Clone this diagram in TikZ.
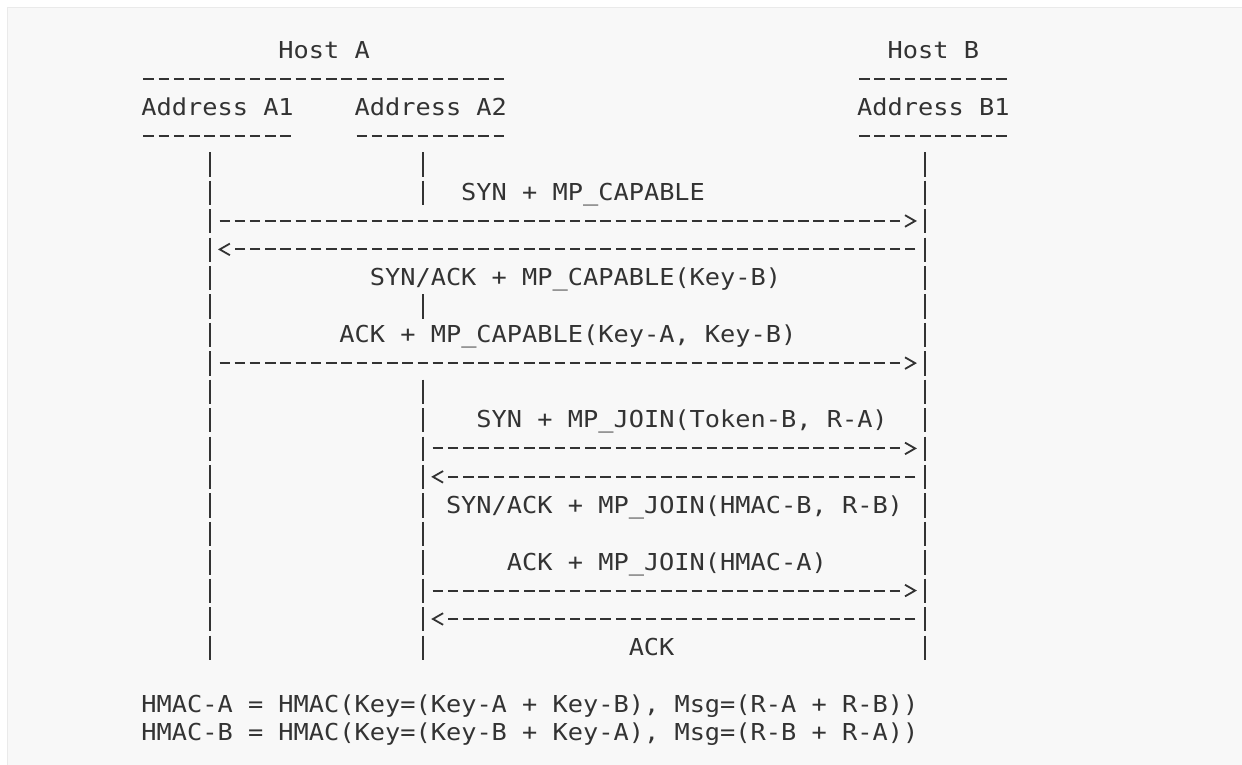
\documentclass[tikz,border=0pt]{standalone}
\usepackage{fontspec}
\newfontfamily\asciifont[FakeStretch=1.085]{DejaVu Sans Mono}
\usetikzlibrary{decorations.markings}

\definecolor{ink}{HTML}{333333}
\definecolor{panel}{HTML}{F8F8F8}
\definecolor{rim}{HTML}{EAEAEA}

% text grid of the figure (px): column left edge, row baseline
\newcommand{\cx}[1]{141+15.23*#1}
\newcommand{\ry}[1]{29.87+28.43*#1}

\tikzset{
  txt/.style={anchor=base west, inner sep=0pt, text=ink,
    font={\asciifont\fontsize{11.66}{14}\selectfont}},
  dashrule/.style={draw=ink, line width=0.95pt, dash pattern=on 5.25pt off 2.365pt},
  life/.style={draw=ink, line width=1pt, dash pattern=on 12.15pt off 2.065pt},
  msg/.style={dashrule, shorten <=1.18pt,
    postaction={decorate, decoration={markings, mark=at position 1 with
      {\draw[ink, line width=0.9pt, solid, shorten <=0pt] (2.5,5.8) -- (12.6,0) -- (2.5,-5.8);}}}},
}

\begin{document}
\begin{tikzpicture}[x=0.5pt, y=-0.5pt]
\useasboundingbox (0,0) rectangle (1242,765);
\fill[white] (0,0) rectangle (1242,765);
\fill[panel] (7.5,7.5) rectangle (1242,765);
\draw[rim, line width=0.8pt] (7.5,765) -- (7.5,7.5) -- (1242,7.5);

% hosts and addresses
\node[txt] (hostA) at (\cx{9}, \ry{1}) {Host A};
\node[txt] (hostB) at (\cx{49}, \ry{1}) {Host B};
\draw[dashrule] (\cx{0}+2.36, \ry{2}-7.9) -- (\cx{24}-2.36, \ry{2}-7.9);
\draw[dashrule] (\cx{47}+2.36, \ry{2}-7.9) -- (\cx{57}-2.36, \ry{2}-7.9);
\node[txt] (addrA1) at (\cx{0}, \ry{3}) {Address A1};
\node[txt] (addrA2) at (\cx{14}, \ry{3}) {Address A2};
\node[txt] (addrB1) at (\cx{47}, \ry{3}) {Address B1};
\draw[dashrule] (\cx{0}+2.36, \ry{4}-7.9) -- (\cx{10}-2.36, \ry{4}-7.9);
\draw[dashrule] (\cx{14}+2.36, \ry{4}-7.9) -- (\cx{24}-2.36, \ry{4}-7.9);
\draw[dashrule] (\cx{47}+2.36, \ry{4}-7.9) -- (\cx{57}-2.36, \ry{4}-7.9);

% lifelines
\coordinate (A1) at (\cx{4.5}, 0);
\coordinate (A2) at (\cx{18.5}, 0);
\coordinate (B1) at (\cx{51.5}, 0);
\draw[life] (\cx{4.5}, \ry{5}-19.8) -- (\cx{4.5}, \ry{22}+4.5);
\draw[life] (\cx{18.5}, \ry{5}-19.8) -- (\cx{18.5}, \ry{6}+4.5);
\draw[life] (\cx{18.5}, \ry{10}-19.8) -- (\cx{18.5}, \ry{10}+4.5);
\draw[life] (\cx{18.5}, \ry{13}-19.8) -- (\cx{18.5}, \ry{22}+4.5);
\draw[life] (\cx{51.5}, \ry{5}-19.8) -- (\cx{51.5}, \ry{22}+4.5);

% message rows
\coordinate (m7) at (0, \ry{7}-7.9);
\coordinate (m8) at (0, \ry{8}-7.9);
\coordinate (m12) at (0, \ry{12}-7.9);
\coordinate (m15) at (0, \ry{15}-7.9);
\coordinate (m16) at (0, \ry{16}-7.9);
\coordinate (m20) at (0, \ry{20}-7.9);
\coordinate (m21) at (0, \ry{21}-7.9);

% first subflow
\node[txt] (synCap) at (\cx{21}, \ry{6}) {SYN + MP\_CAPABLE};
\draw[msg] ([xshift=3.81pt]A1 |- m7) -- ([xshift=-11.42pt]B1 |- m7);
\draw[msg] ([xshift=-3.81pt]B1 |- m8) -- ([xshift=11.42pt]A1 |- m8);
\node[txt] (synackCap) at (\cx{15}, \ry{9}) {SYN/ACK + MP\_CAPABLE(Key-B)};
\node[txt] (ackCap) at (\cx{13}, \ry{11}) {ACK + MP\_CAPABLE(Key-A, Key-B)};
\draw[msg] ([xshift=3.81pt]A1 |- m12) -- ([xshift=-11.42pt]B1 |- m12);

% second subflow
\node[txt] (synJoin) at (\cx{22}, \ry{14}) {SYN + MP\_JOIN(Token-B, R-A)};
\draw[msg] ([xshift=3.81pt]A2 |- m15) -- ([xshift=-11.42pt]B1 |- m15);
\draw[msg] ([xshift=-3.81pt]B1 |- m16) -- ([xshift=11.42pt]A2 |- m16);
\node[txt] (synackJoin) at (\cx{20}, \ry{17}) {SYN/ACK + MP\_JOIN(HMAC-B, R-B)};
\node[txt] (ackJoin) at (\cx{24}, \ry{19}) {ACK + MP\_JOIN(HMAC-A)};
\draw[msg] ([xshift=3.81pt]A2 |- m20) -- ([xshift=-11.42pt]B1 |- m20);
\draw[msg] ([xshift=-3.81pt]B1 |- m21) -- ([xshift=11.42pt]A2 |- m21);
\node[txt] (ackLast) at (\cx{32}, \ry{22}) {ACK};

% key derivation
\node[txt] (hmacA) at (\cx{0}, \ry{24}) {HMAC-A = HMAC(Key=(Key-A + Key-B), Msg=(R-A + R-B))};
\node[txt] (hmacB) at (\cx{0}, \ry{25}) {HMAC-B = HMAC(Key=(Key-B + Key-A), Msg=(R-B + R-A))};

\end{tikzpicture}
\end{document}
